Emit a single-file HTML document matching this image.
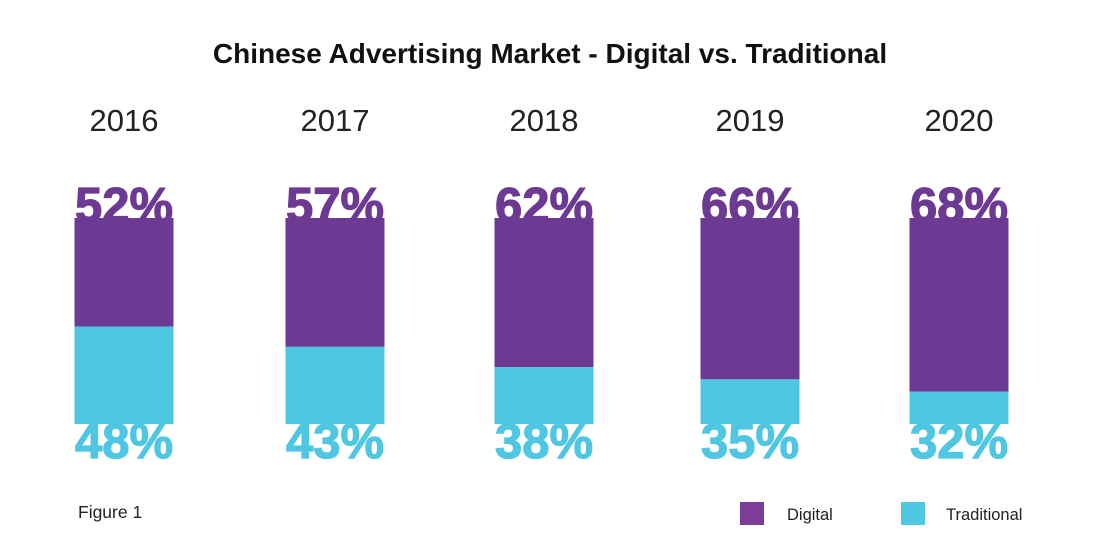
<!DOCTYPE html>
<html><head><meta charset="utf-8"><style>
body{margin:0;background:#fff;width:1101px;height:540px;overflow:hidden;font-family:"Liberation Sans",sans-serif}
</style></head><body>
<svg id="chart" width="1101" height="540">
<text x="550" y="63" text-anchor="middle" font-size="28" font-weight="bold" fill="#111">Chinese Advertising Market - Digital vs. Traditional</text>
<text x="78" y="518" font-size="17.5" fill="#222">Figure 1</text>
<rect x="740" y="502" width="24" height="23" fill="#7b3f98"/>
<text x="787" y="520" font-size="16.5" fill="#222">Digital</text>
<rect x="901" y="502" width="24" height="23" fill="#4fc7e3"/>
<text x="946" y="520" font-size="16.5" fill="#222">Traditional</text>
</svg>
<script>
const years=["2016","2017","2018","2019","2020"];
const digital=[52,57,62,66,68];
const traditional=[48,43,38,35,32];
const svg=document.getElementById('chart');
const NS="http://www.w3.org/2000/svg";
const barTop=218,barBottom=424,barW=99;
const centers=[124,335,544,750,959];
function xCenter(i){return centers[i];}
function tradH(v){return Math.max(0,Math.min(barBottom-barTop,4.06*(v-24)));}
function mk(tag,attrs){const e=document.createElementNS(NS,tag);for(const k in attrs)e.setAttribute(k,attrs[k]);svg.appendChild(e);return e;}
years.forEach((y,i)=>{
  const cx=xCenter(i);
  const t=mk('text',{x:cx,y:131,'text-anchor':'middle','font-size':31,fill:'#222'});
  t.textContent=y;
  
  
  const d=mk('text',{x:cx,y:222,'text-anchor':'middle','font-size':49,'font-weight':'bold',fill:'#6d3a93',stroke:'#6d3a93','stroke-width':1.2});
  d.textContent=digital[i]+'%';
  
  
  const tr=mk('text',{x:cx,y:458,'text-anchor':'middle','font-size':49,'font-weight':'bold',fill:'#4fc7e3',stroke:'#4fc7e3','stroke-width':1.2});
  tr.textContent=traditional[i]+'%';
  
  
  const h=tradH(traditional[i]);
  const p=mk('rect',{x:cx-barW/2,y:barTop,width:barW,height:barBottom-barTop-h,fill:'#6d3a93'});
  
  
  const c=mk('rect',{x:cx-barW/2,y:barBottom-h,width:barW,height:h,fill:'#4fc7e3'});
  
  
});
</script>
</body></html>
